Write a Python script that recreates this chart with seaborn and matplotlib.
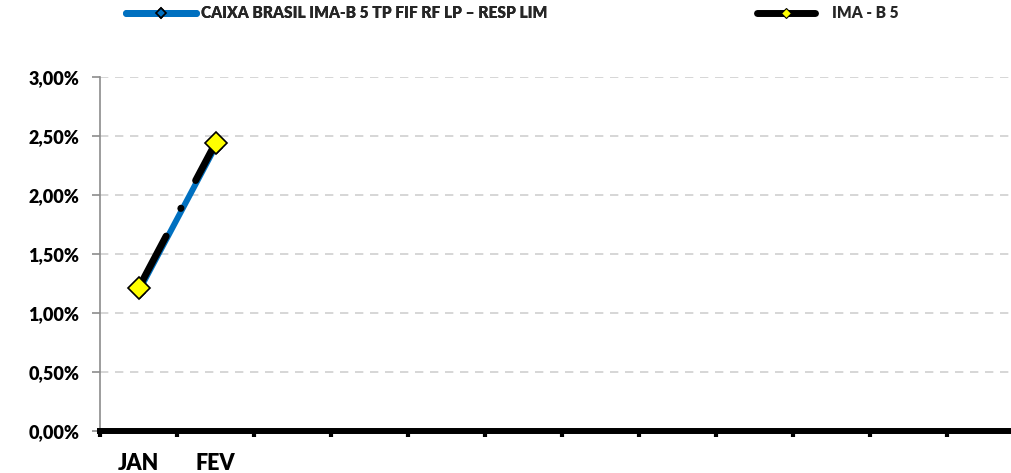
import matplotlib
matplotlib.use("Agg")
import matplotlib.pyplot as plt
from matplotlib.lines import Line2D
from matplotlib.ticker import FuncFormatter, FixedLocator
import seaborn as sns
import pandas as pd

months = ["JAN", "FEV", "", "", "", "", "", "", "", "", "", ""]
fund_name = "CAIXA BRASIL IMA-B 5 TP FIF RF LP – RESP LIM"
bench_name = "IMA - B 5"
fund_values = [1.18, 2.41]
bench_values = [1.21, 2.44]
y_ticks = [0.0, 0.5, 1.0, 1.5, 2.0, 2.5, 3.0]

sns.set_style("white")
plt.rcParams["font.family"] = ["Lato", "DejaVu Sans"]
plt.rcParams["font.weight"] = "bold"

BLUE = "#0070C0"

fig = plt.figure(figsize=(10.11, 4.73), dpi=100)
W, H = 1011, 473
ax = fig.add_axes([100 / W, 42 / H, 924 / W, 354 / H])

df_f = pd.DataFrame({"x": list(range(len(fund_values))), "y": fund_values})
df_b = pd.DataFrame({"x": list(range(len(bench_values))), "y": bench_values})

sns.lineplot(data=df_f, x="x", y="y", ax=ax, color=BLUE, linewidth=4.3,
             marker="D", markersize=6, markerfacecolor=BLUE,
             markeredgecolor="black", markeredgewidth=1, zorder=3)
sns.lineplot(data=df_b, x="x", y="y", ax=ax, color="black", linewidth=5,
             marker="D", markersize=11, markerfacecolor="#FFFF00",
             markeredgecolor="black", markeredgewidth=1.2, zorder=4)
bl = ax.get_lines()[-1]
bl.set_dashes((8.5, 4.5, 0.05, 4.5))
bl.set_dash_capstyle("round")
bl.set_solid_capstyle("round")

ax.set_xlim(-0.5, 11.5)
ax.set_ylim(0, 3.0)
ax.set_xlabel("")
ax.set_ylabel("")

ax.yaxis.set_major_locator(FixedLocator(y_ticks))
ax.yaxis.set_major_formatter(FuncFormatter(lambda v, p: f"{v:.2f}%".replace(".", ",")))
ax.set_xticks(range(12))
ax.set_xticklabels(months)
ax.set_xticks([i - 0.5 for i in range(13)], minor=True)

for s in ["top", "right"]:
    ax.spines[s].set_visible(False)
ax.spines["left"].set_color("#8c8c8c")
ax.spines["left"].set_linewidth(1.2)
ax.spines["bottom"].set_color("black")
ax.spines["bottom"].set_linewidth(4.3)
ax.spines["bottom"].set_zorder(5)

ax.tick_params(axis="y", which="major", direction="out", length=6, width=1.2,
               color="#8c8c8c", labelsize=13, pad=9, left=True)
ax.tick_params(axis="x", which="major", length=0, labelsize=15.5, pad=16)
ax.tick_params(axis="x", which="minor", direction="out", length=4.5, width=3,
               color="black", bottom=True)
for lab in ax.get_xticklabels() + ax.get_yticklabels():
    lab.set_fontweight("heavy")
    lab.set_color("black")

ax.grid(axis="y", color="#d0d0d0", linestyle=(0, (5, 4)), linewidth=1.2)
ax.grid(axis="x", visible=False)
ax.set_axisbelow(True)

h1 = Line2D([], [], color=BLUE, linewidth=5, marker="D", markersize=5,
            markerfacecolor=BLUE, markeredgecolor="black", markeredgewidth=1.2,
            solid_capstyle="round")
h2 = Line2D([], [], color="black", linewidth=5, marker="D", markersize=5,
            markerfacecolor="#FFFF00", markeredgecolor="black", markeredgewidth=0.8,
            solid_capstyle="round")
leg1 = fig.legend([h1], [fund_name], loc="center left",
                  bbox_to_anchor=(112 / W, 1 - 13 / H), frameon=False,
                  handlelength=4.5, handletextpad=0.3,
                  prop={"weight": "heavy", "size": 11.2})
leg2 = fig.legend([h2], [bench_name], loc="center left",
                  bbox_to_anchor=(743 / W, 1 - 13 / H), frameon=False,
                  handlelength=3.7, handletextpad=1.1,
                  prop={"weight": "heavy", "size": 11.2})
fig.add_artist(leg1)

fig.savefig("out.png", dpi=100)
